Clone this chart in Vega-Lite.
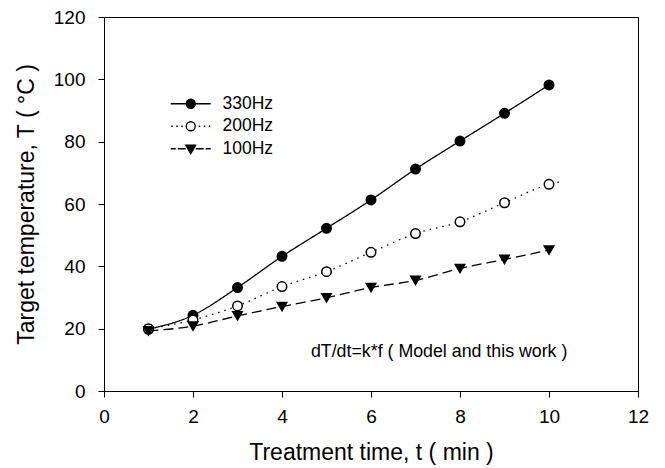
{
  "$schema": "https://vega.github.io/schema/vega-lite/v6.json",
  "width": 534,
  "height": 374,
  "autosize": {"type": "none"},
  "padding": {"left": 104, "top": 17, "right": 27, "bottom": 77},
  "background": "white",
  "config": {
    "view": {"stroke": "black", "strokeWidth": 1},
    "font": "Liberation Sans",
    "axis": {
      "grid": false,
      "domainColor": "black",
      "tickColor": "black",
      "labelColor": "black",
      "titleColor": "black",
      "labelFont": "Liberation Sans",
      "titleFont": "Liberation Sans",
      "titleFontWeight": "normal",
      "tickSize": 6,
      "domainWidth": 1,
      "tickWidth": 1
    },
    "legend": {"labelFont": "Liberation Sans", "labelColor": "black"}
  },
  "data": {
    "values": [
      {"t": 1, "T": 19.8, "series": "330Hz", "marker": true},
      {"t": 2, "T": 24.3, "series": "330Hz", "marker": true},
      {"t": 3, "T": 33.2, "series": "330Hz", "marker": true},
      {"t": 4, "T": 43.2, "series": "330Hz", "marker": true},
      {"t": 5, "T": 52.2, "series": "330Hz", "marker": true},
      {"t": 6, "T": 61.3, "series": "330Hz", "marker": true},
      {"t": 7, "T": 71.2, "series": "330Hz", "marker": true},
      {"t": 8, "T": 80.2, "series": "330Hz", "marker": true},
      {"t": 9, "T": 89.1, "series": "330Hz", "marker": true},
      {"t": 10, "T": 98.2, "series": "330Hz", "marker": true},
      {"t": 1, "T": 20.0, "series": "200Hz", "marker": true},
      {"t": 2, "T": 22.8, "series": "200Hz", "marker": true},
      {"t": 3, "T": 27.3, "series": "200Hz", "marker": true},
      {"t": 4, "T": 33.5, "series": "200Hz", "marker": true},
      {"t": 5, "T": 38.3, "series": "200Hz", "marker": true},
      {"t": 6, "T": 44.5, "series": "200Hz", "marker": true},
      {"t": 7, "T": 50.5, "series": "200Hz", "marker": true},
      {"t": 8, "T": 54.3, "series": "200Hz", "marker": true},
      {"t": 9, "T": 60.4, "series": "200Hz", "marker": true},
      {"t": 10, "T": 66.3, "series": "200Hz", "marker": true},
      {"t": 10.3, "T": 67.3, "series": "200Hz", "marker": false},
      {"t": 1, "T": 19.3, "series": "100Hz", "marker": true},
      {"t": 2, "T": 20.8, "series": "100Hz", "marker": true},
      {"t": 3, "T": 24.1, "series": "100Hz", "marker": true},
      {"t": 4, "T": 27.1, "series": "100Hz", "marker": true},
      {"t": 5, "T": 29.9, "series": "100Hz", "marker": true},
      {"t": 6, "T": 33.2, "series": "100Hz", "marker": true},
      {"t": 7, "T": 35.5, "series": "100Hz", "marker": true},
      {"t": 8, "T": 39.3, "series": "100Hz", "marker": true},
      {"t": 9, "T": 42.2, "series": "100Hz", "marker": true},
      {"t": 10, "T": 45.2, "series": "100Hz", "marker": true}
    ]
  },
  "encoding": {
    "x": {
      "field": "t",
      "type": "quantitative",
      "scale": {"domain": [0, 12], "nice": false, "zero": false},
      "axis": {
        "values": [0, 2, 4, 6, 8, 10, 12],
        "title": "Treatment time, t ( min )",
        "titleFontSize": 23,
        "labelFontSize": 19,
        "labelPadding": 10,
        "titlePadding": 15,
        "labelFlush": false
      }
    },
    "y": {
      "field": "T",
      "type": "quantitative",
      "scale": {"domain": [0, 120], "nice": false},
      "axis": {
        "values": [0, 20, 40, 60, 80, 100, 120],
        "title": "Target temperature, T ( °C )",
        "titleFontSize": 23,
        "labelFontSize": 19,
        "labelPadding": 13,
        "titlePadding": 15,
        "labelFlush": false
      }
    }
  },
  "layer": [
    {
      "mark": {"type": "line", "interpolate": "monotone", "color": "black", "strokeWidth": 1.3},
      "encoding": {
        "strokeDash": {
          "field": "series",
          "type": "nominal",
          "scale": {"domain": ["330Hz", "200Hz", "100Hz"], "range": [[1, 0], [1.5, 5], [10, 5]]},
          "legend": null
        }
      }
    },
    {
      "transform": [{"filter": "datum.marker"}],
      "mark": {"type": "point", "filled": false, "stroke": "black", "strokeWidth": 1.5, "size": 90, "opacity": 1},
      "encoding": {
        "shape": {
          "field": "series",
          "type": "nominal",
          "scale": {"domain": ["330Hz", "200Hz", "100Hz"], "range": ["circle", "circle", "triangle-down"]},
          "legend": null
        },
        "fill": {
          "field": "series",
          "type": "nominal",
          "scale": {"domain": ["330Hz", "200Hz", "100Hz"], "range": ["black", "white", "black"]},
          "legend": null
        }
      }
    },
    {
      "transform": [{"filter": "false"}],
      "mark": {"type": "point", "filled": false, "strokeWidth": 1.3, "opacity": 1},
      "encoding": {
        "shape": {
          "field": "series",
          "type": "nominal",
          "scale": {
            "domain": ["330Hz", "200Hz", "100Hz"],
            "range": [
              "M-4,0H-0.9M0.9,0H4M0.9,0A0.9,0.9,0,1,1,-0.9,0A0.9,0.9,0,1,1,0.9,0Z",
              "M-3.9,0H-3.6M-2.9,0H-2.6M-1.9,0H-1.6M1.6,0H1.9M2.6,0H2.9M3.6,0H3.9M0.9,0A0.9,0.9,0,1,1,-0.9,0A0.9,0.9,0,1,1,0.9,0Z",
              "M-4,0H-3M-2.6,0H-1M1,0H2.6M3,0H4M-1,-0.7H1L0,1Z"
            ]
          },
          "legend": {
            "title": null,
            "orient": "none",
            "legendX": 78,
            "legendY": 78,
            "padding": 0,
            "symbolSize": 100,
            "symbolStrokeWidth": 1.3,
            "labelFontSize": 17.5,
            "labelOffset": 23,
            "rowPadding": 3.5,
            "labelColor": "black"
          }
        },
        "fill": {
          "field": "series",
          "type": "nominal",
          "scale": {"domain": ["330Hz", "200Hz", "100Hz"], "range": ["black", "white", "black"]},
          "legend": {"title": null}
        },
        "stroke": {
          "field": "series",
          "type": "nominal",
          "scale": {"domain": ["330Hz", "200Hz", "100Hz"], "range": ["black", "black", "black"]},
          "legend": {"title": null}
        }
      }
    },
    {
      "data": {"values": [{"label": "dT/dt=k*f ( Model and this work )", "lx": 4.65, "ly": 11.0}]},
      "mark": {"type": "text", "align": "left", "baseline": "alphabetic", "fontSize": 17.8, "font": "Liberation Sans", "color": "black"},
      "encoding": {
        "text": {"field": "label"},
        "x": {"field": "lx", "type": "quantitative"},
        "y": {"field": "ly", "type": "quantitative"}
      }
    }
  ],
  "resolve": {
    "scale": {"shape": "independent", "fill": "independent", "stroke": "independent"},
    "legend": {"shape": "independent", "fill": "independent", "stroke": "independent"}
  }
}
